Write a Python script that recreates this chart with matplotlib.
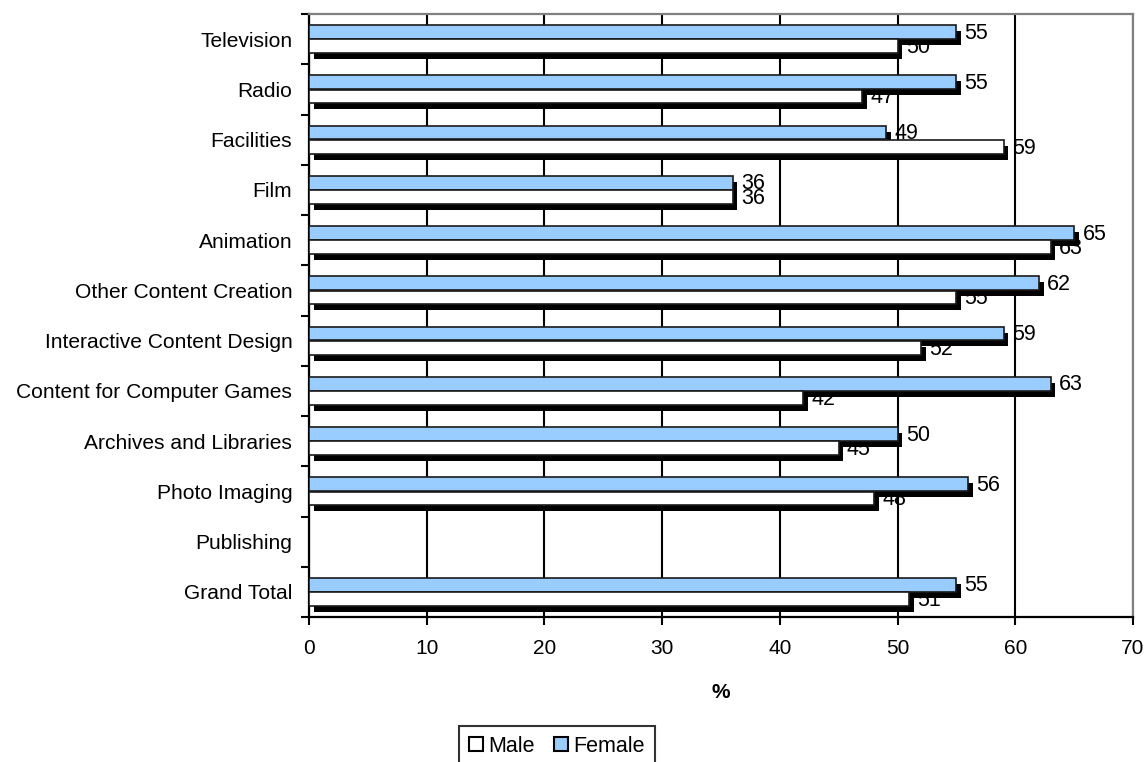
import matplotlib

matplotlib.use("Agg")
import matplotlib.pyplot as plt
import matplotlib.patheffects as pe
from matplotlib.patches import Patch
import numpy as np

categories = [
    "Television",
    "Radio",
    "Facilities",
    "Film",
    "Animation",
    "Other Content Creation",
    "Interactive Content Design",
    "Content for Computer Games",
    "Archives and Libraries",
    "Photo Imaging",
    "Publishing",
    "Grand Total",
]
male = [50, 47, 59, 36, 63, 55, 52, 42, 45, 48, None, 51]
female = [55, 55, 49, 36, 65, 62, 59, 63, 50, 56, None, 55]

plt.rcParams["font.family"] = ["Liberation Sans", "DejaVu Sans"]

fig = plt.figure(figsize=(11.46, 7.62), dpi=100)
ax = fig.add_axes([309 / 1146, 1 - 617 / 762, 824 / 1146, 603 / 762])

y = np.arange(len(categories))
bar_h = 0.275
shadow = [pe.SimplePatchShadow(offset=(3.4, -4.3), shadow_rgbFace="black", alpha=1.0), pe.Normal()]

fem_vals = [np.nan if v is None else v for v in female]
male_vals = [np.nan if v is None else v for v in male]

ax.barh(y - 0.14, fem_vals, height=bar_h, color="#99CCFF", edgecolor="#1a1a1a",
        linewidth=1.2, zorder=3, path_effects=shadow)
ax.barh(y + 0.14, male_vals, height=bar_h, color="white", edgecolor="#1a1a1a",
        linewidth=1.2, zorder=3, path_effects=shadow)

# value labels sit under the bars, so shadows can cover them
for yi, v in zip(y, female):
    if v is not None:
        ax.text(v + 0.7, yi - 0.12, f"{v}", va="center", ha="left", fontsize=15.5, zorder=2)
for yi, v in zip(y, male):
    if v is not None:
        ax.text(v + 0.7, yi + 0.17, f"{v}", va="center", ha="left", fontsize=15.5, zorder=2)

ax.set_xlim(0, 70)
ax.set_ylim(len(categories) - 0.5, -0.5)
ax.set_xticks(np.arange(0, 71, 10))
ax.tick_params(axis="x", labelsize=15, length=6, width=1.5, pad=10)

# ticks on the category boundaries, labels at the centres
ax.set_yticks(np.arange(-0.5, len(categories), 1))
ax.set_yticklabels([])
ax.tick_params(axis="y", which="major", length=6, width=1.5)
ax.set_yticks(y, minor=True)
ax.set_yticklabels(categories, minor=True)
ax.tick_params(axis="y", which="minor", length=0, labelsize=15.1, pad=12)

ax.xaxis.grid(True, color="black", linewidth=1.5, zorder=1)
ax.set_axisbelow(True)

for side in ["left", "bottom"]:
    ax.spines[side].set_linewidth(1.6)
    ax.spines[side].set_color("black")
for side in ["top", "right"]:
    ax.spines[side].set_linewidth(1.6)
    ax.spines[side].set_color("#808080")

ax.set_xlabel("%", fontsize=15, fontweight="bold", labelpad=18)

handles = [
    Patch(facecolor="white", edgecolor="black", linewidth=1.5, label="Male"),
    Patch(facecolor="#99CCFF", edgecolor="black", linewidth=1.5, label="Female"),
]
leg = fig.legend(handles=handles, loc="upper center", bbox_to_anchor=(557 / 1146, 1 - 726 / 762),
                 ncol=2, fontsize=15.5, frameon=True, fancybox=False, handlelength=0.65,
                 handleheight=0.65, handletextpad=0.25, columnspacing=0.9, borderpad=0.45,
                 borderaxespad=0)
leg.get_frame().set_edgecolor("black")
leg.get_frame().set_linewidth(1.5)

fig.savefig("out.png", dpi=100)
